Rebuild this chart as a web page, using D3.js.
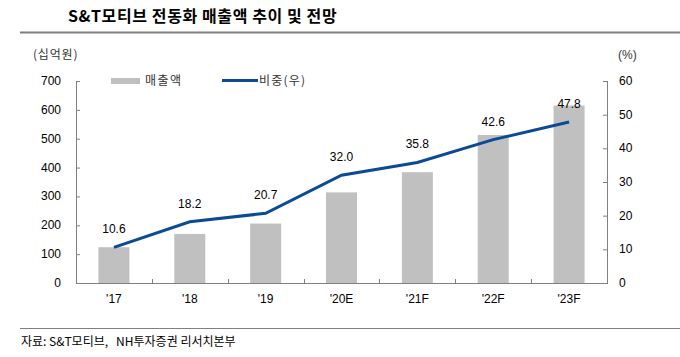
<!DOCTYPE html>
<html><head><meta charset="utf-8">
<script src="https://cdn.jsdelivr.net/npm/d3@7"></script>
<style>
body{margin:0;background:#fff;}
text{font-family:"Liberation Sans",Arial,"Noto Sans CJK KR",sans-serif;}
.kr{font-family:"Noto Sans CJK KR","Liberation Sans",sans-serif;}
</style></head>
<body>
<svg id="c" width="680" height="357"></svg>
<script>
const categories = ["'17","'18","'19","'20E","'21F","'22F","'23F"];
const sales = [124, 170, 206, 314, 384, 513, 615];
const share = [10.6, 18.2, 20.7, 32.0, 35.8, 42.6, 47.8];
const leftTicks = [0,100,200,300,400,500,600,700];
const rightTicks = [0,10,20,30,40,50,60];

const svg = d3.select("#c");
const L = 76, R = 607, T = 81, B = 283;

const x = d3.scaleBand().domain(categories).range([L, R]).paddingInner(0).paddingOuter(0);
const yL = d3.scaleLinear().domain([0,700]).range([B, T]);
const yR = d3.scaleLinear().domain([0,60]).range([B, T]);

// title
svg.append("text").attr("class","kr").attr("x",68).attr("y",22)
  .attr("font-size",16).attr("font-weight","bold").attr("letter-spacing",0.6).attr("fill","#000")
  .text("S&T모티브 전동화 매출액 추이 및 전망");
svg.append("line").attr("x1",20).attr("x2",680).attr("y1",32.5).attr("y2",32.5)
  .attr("stroke","#808080").attr("stroke-width",2);

// unit labels
svg.append("text").attr("class","kr").attr("x",33).attr("y",59).attr("font-size",12).attr("letter-spacing",0.8).attr("fill","#333").text("(십억원)");
svg.append("text").attr("x",618).attr("y",59).attr("font-size",12).attr("fill","#333").text("(%)");

// bars
svg.append("g").selectAll("rect").data(categories).join("rect")
  .attr("x", d => x(d) + x.bandwidth()/2 - 15.5)
  .attr("width", 31)
  .attr("y", (d,i) => yL(sales[i]))
  .attr("height", (d,i) => B - yL(sales[i]))
  .attr("fill","#c0c0c0");

// axes
const axisColor = "#808080";
const gL = svg.append("g").attr("transform",`translate(${L},0)`)
  .call(d3.axisRight(yL).tickValues(leftTicks).tickSize(4).tickFormat(""));
gL.select(".domain").remove();
gL.selectAll("line").attr("stroke",axisColor);
svg.append("line").attr("x1",L+0.5).attr("x2",L+0.5).attr("y1",T).attr("y2",B).attr("stroke",axisColor);
svg.append("g").selectAll("text").data(leftTicks).join("text")
  .attr("x",61).attr("y",d=>yL(d)+4).attr("text-anchor","end").attr("font-size",12).attr("fill","#000").text(d=>d);

const gR = svg.append("g").attr("transform",`translate(${R},0)`)
  .call(d3.axisLeft(yR).tickValues(rightTicks).tickSize(4).tickFormat(""));
gR.select(".domain").remove();
gR.selectAll("line").attr("stroke",axisColor);
svg.append("line").attr("x1",R+0.5).attr("x2",R+0.5).attr("y1",T).attr("y2",B).attr("stroke",axisColor);
svg.append("g").selectAll("text").data(rightTicks).join("text")
  .attr("x",619).attr("y",d=>yR(d)+4).attr("text-anchor","start").attr("font-size",12).attr("fill","#000").text(d=>d);

// x axis
svg.append("line").attr("x1",L).attr("x2",R+1).attr("y1",B+0.5).attr("y2",B+0.5).attr("stroke",axisColor);
const bounds = categories.slice(1).map(c => x(c));
svg.append("g").selectAll("line").data(bounds).join("line")
  .attr("x1",d=>Math.round(d)+0.5).attr("x2",d=>Math.round(d)+0.5).attr("y1",B).attr("y2",B-4).attr("stroke",axisColor);
svg.append("g").selectAll("text").data(categories).join("text")
  .attr("x",d=>x(d)+x.bandwidth()/2).attr("y",303).attr("text-anchor","middle").attr("font-size",12).attr("fill","#000").text(d=>d);

// line
const line = d3.line().x((d,i)=>x(categories[i])+x.bandwidth()/2).y(d=>yR(d));
svg.append("path").datum(share).attr("d",line).attr("fill","none").attr("stroke","#0a4a96").attr("stroke-width",3);
svg.append("g").selectAll("text").data(share).join("text")
  .attr("x",(d,i)=>x(categories[i])+x.bandwidth()/2).attr("y",d=>yR(d)-14)
  .attr("text-anchor","middle").attr("font-size",12).attr("fill","#000").text(d=>d.toFixed(1));

// legend
svg.append("rect").attr("x",111).attr("y",78).attr("width",29).attr("height",6).attr("fill","#c0c0c0");
svg.append("text").attr("class","kr").attr("x",145).attr("y",85).attr("font-size",12).attr("letter-spacing",1.5).attr("fill","#333").text("매출액");
svg.append("line").attr("x1",222).attr("x2",258).attr("y1",80.5).attr("y2",80.5).attr("stroke","#0a4a96").attr("stroke-width",3);
svg.append("text").attr("class","kr").attr("x",259).attr("y",85).attr("font-size",12).attr("letter-spacing",1.2).attr("fill","#333").text("비중(우)");

// footer
svg.append("line").attr("x1",20).attr("x2",680).attr("y1",328.5).attr("y2",328.5).attr("stroke","#808080").attr("stroke-width",1);
svg.append("text").attr("class","kr").attr("x",21).attr("y",346).attr("font-size",12).attr("fill","#000")
  .text("자료: S&T모티브,\u00a0\u00a0\u00a0NH투자증권 리서치본부");
</script>
</body></html>
